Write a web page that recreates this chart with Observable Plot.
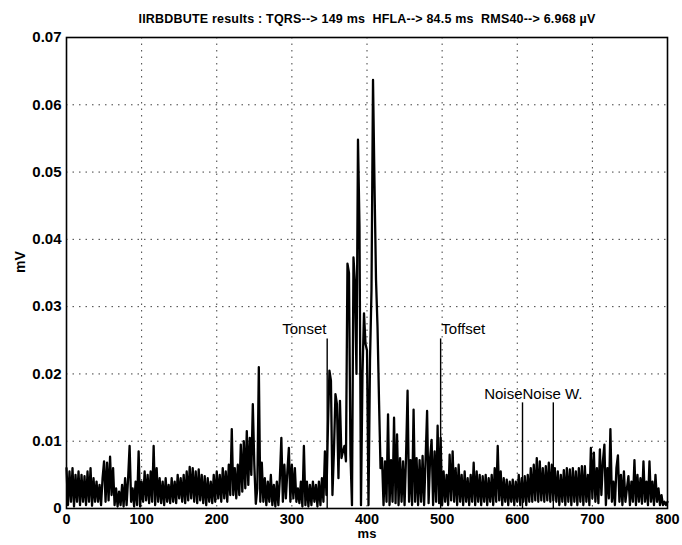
<!DOCTYPE html>
<html><head><meta charset="utf-8">
<script src="https://cdn.jsdelivr.net/npm/d3@7"></script>
<script src="https://cdn.jsdelivr.net/npm/@observablehq/plot@0.6"></script>
<style>
body{margin:0;background:#fff;}
#chart svg{display:block;}
.title-text text{letter-spacing:0.2px;}
</style></head><body><div id="chart"></div>
<script>
const titleText = "IIRBDBUTE results : TQRS--> 149 ms\u00a0\u00a0HFLA--> 84.5 ms\u00a0\u00a0RMS40--> 6.968 \u00b5V";
const xLabel = "ms";
const yLabel = "mV";
const xTicks = [0, 100, 200, 300, 400, 500, 600, 700, 800];
const yTicks = [0, 0.01, 0.02, 0.03, 0.04, 0.05, 0.06, 0.07];
const sampleStepMs = 2;
// filtered signal magnitude (mV), one value every 2 ms from 0 to 800 ms
const signalMV = [
  .006,.0005,.0055,.001,.006,.0003,.005,.001,.0055,.0005,
  .005,.001,.0048,.0005,.0055,.001,.006,.0004,.0045,.001,
  .004,.001,.0035,.0005,.0045,.007,.001,.0068,.0012,.0077,
  .002,.006,.0005,.003,.0003,.0025,.0005,.0035,.0003,.0045,
  .0005,.0045,.0093,.001,.003,.0003,.004,.0005,.0085,.0003,
  .004,.001,.0055,.0012,.005,.0008,.0055,.001,.0093,.0005,
  .006,.001,.0045,.0008,.004,.0005,.0045,.001,.0035,.0008,
  .0045,.001,.004,.0008,.005,.0015,.0045,.001,.005,.0008,
  .0055,.0012,.0062,.0015,.006,.001,.0055,.0008,.0058,.0012,
  .005,.0008,.0048,.0005,.0045,.001,.004,.0008,.005,.001,
  .0055,.0015,.005,.001,.006,.0015,.0055,.001,.0065,.002,
  .0118,.002,.006,.0015,.0065,.002,.0095,.0025,.01,.003,
  .0115,.0035,.0105,.005,.0155,.0065,.0007,.003,.021,.001,
  .0068,.001,.0045,.0005,.004,.001,.005,.0005,.0035,.0003,
  .004,.0005,.0045,.0105,.001,.0065,.0015,.0055,.009,.001,
  .0065,.0015,.006,.001,.003,.0008,.004,.0003,.0093,.0005,
  .004,.0003,.0035,.0005,.004,.001,.0035,.0003,.004,.0005,
  .0045,.001,.0085,.002,.012,.0205,.019,.002,.0085,.017,
  .0155,.0045,.016,.0075,.0085,.0093,.007,.0364,.035,.008,
  .0005,.0373,.0335,.02,.0548,.042,.0005,.02,.029,.0245,
  .0235,.0005,.022,.0325,.0637,.048,.034,.027,.016,.006,
  .0075,.0005,.007,.001,.014,.0005,.0072,.001,.0135,.0008,
  .011,.0005,.0075,.001,.007,.0005,.0078,.0175,.001,.0072,
  .0005,.0147,.001,.0075,.0005,.0072,.001,.0078,.0005,.0073,
  .0145,.0008,.0075,.0102,.0005,.0085,.001,.0123,.0008,.0105,
  .0005,.0055,.001,.005,.0005,.008,.0012,.0085,.001,.006,
  .0005,.0065,.001,.005,.0005,.0055,.001,.0045,.0005,.005,
  .001,.0068,.0005,.0055,.001,.005,.0005,.0048,.001,.005,
  .0005,.0045,.001,.005,.0005,.006,.001,.0093,.0012,.0055,
  .0005,.0045,.001,.0043,.0005,.004,.001,.0043,.0005,.004,
  .001,.005,.0005,.0045,.001,.0048,.0005,.005,.001,.006,
  .001,.0065,.0012,.0075,.001,.007,.0012,.006,.001,.0063,
  .0012,.0068,.001,.0065,.0012,.006,.001,.0055,.0005,.005,
  .001,.0057,.0005,.006,.001,.0058,.0005,.006,.001,.0055,
  .0005,.006,.001,.0063,.0005,.0063,.001,.005,.0005,.009,
  .0015,.0083,.001,.006,.0008,.0088,.002,.007,.0095,.0005,
  .006,.0015,.0118,.001,.004,.0005,.006,.0079,.001,.005,
  .0005,.0055,.001,.003,.0048,.0005,.004,.001,.0072,.0005,
  .005,.001,.0045,.0007,.007,.001,.004,.0005,.007,.001,
  .004,.0005,.005,.001,.003,.0005,.002,.0005,.001,.0005,
  .001
];
const markerTimes = [347, 498, 607, 648];
const markerHeights = [0.0252, 0.0252, 0.0157, 0.0157];
const endLabelNames = ["Tonset", "Noise"];
const endLabelTimes = [346, 607];
const endLabelLevels = [0.0267, 0.0170];
const startLabelNames = ["Toffset", "Noise W."];
const startLabelTimes = [499, 607];
const startLabelLevels = [0.0267, 0.0170];

const signal = signalMV.map((v, i) => ({t: i * sampleStepMs, v}));
const markers = markerTimes.map((t, i) => ({t, h: markerHeights[i]}));
const endLabels = endLabelNames.map((s, i) => ({s, t: endLabelTimes[i], y: endLabelLevels[i]}));
const startLabels = startLabelNames.map((s, i) => ({s, t: startLabelTimes[i], y: startLabelLevels[i]}));

const font = "'Liberation Sans', Arial, Helvetica, sans-serif";
const chart = Plot.plot({
  width: 682, height: 545,
  marginLeft: 66, marginRight: 15, marginTop: 37, marginBottom: 37,
  x: {domain: [0, 800]},
  y: {domain: [0, 0.07]},
  style: {fontFamily: font, color: "black", background: "white"},
  marks: [
    Plot.gridX(xTicks.slice(1, -1), {stroke: "black", strokeOpacity: 0.75, strokeDasharray: "1.5,5"}),
    Plot.gridY(yTicks.slice(1, -1), {stroke: "black", strokeOpacity: 0.75, strokeDasharray: "1.5,5"}),
    Plot.lineY(signal, {x: "t", y: "v", stroke: "black", strokeWidth: 2.3}),
    Plot.ruleX(markers, {x: "t", y1: 0, y2: "h", stroke: "black", strokeWidth: 1.4}),
    Plot.text(endLabels, {x: "t", y: "y", text: "s", textAnchor: "end", fontSize: 15, fill: "black"}),
    Plot.text(startLabels, {x: "t", y: "y", text: "s", textAnchor: "start", fontSize: 15, fill: "black"}),
    Plot.frame({stroke: "black", strokeWidth: 1.6}),
    Plot.axisX(xTicks, {tickSize: 0, tickPadding: 5, fontSize: 14.5, fontWeight: "bold", label: null, tickFormat: d => String(d)}),
    Plot.axisY(yTicks, {tickSize: 0, tickPadding: 5, fontSize: 15, fontWeight: "bold", label: null, tickFormat: d => String(d)}),
    Plot.text([yLabel], {text: d => d, frameAnchor: "left", dx: -46, rotate: -90, fontSize: 14, fontWeight: "bold"}),
    Plot.text([xLabel], {text: d => d, frameAnchor: "bottom", dy: 29, fontSize: 13, fontWeight: "bold"}),
    Plot.text([titleText], {text: d => d, frameAnchor: "top", dy: -23, fontSize: 12.5, fontWeight: "bold", className: "title-text"})
  ]
});
document.getElementById("chart").append(chart);
</script></body></html>
